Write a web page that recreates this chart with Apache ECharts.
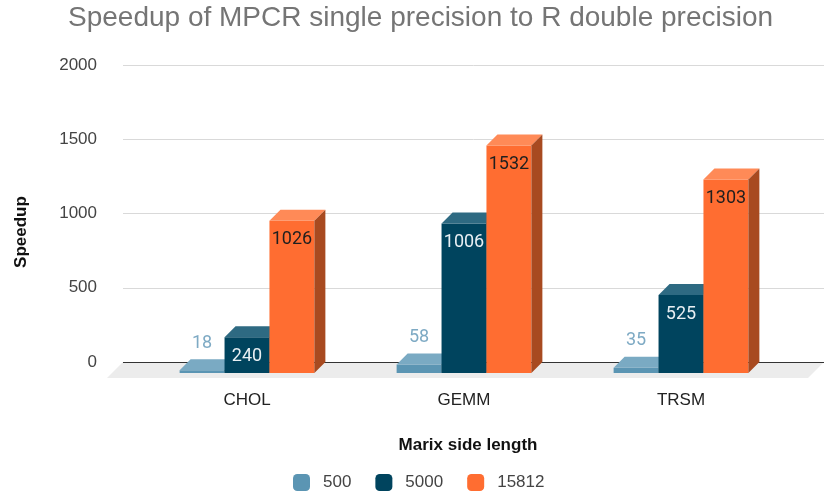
<!DOCTYPE html>
<html>
<head>
<meta charset="utf-8">
<script src="https://cdn.jsdelivr.net/npm/echarts@6/dist/echarts.min.js"></script>
<style>
  html, body { margin: 0; padding: 0; background: #fff; }
  #chart { width: 824px; height: 495px; }
</style>
</head>
<body>
<div id="chart"></div>
<script>
// data
const categories = ['CHOL', 'GEMM', 'TRSM']
const seriesNames = ['500', '5000', '15812']
const values500 = [18, 58, 35]
const values5000 = [240, 1006, 525]
const values15812 = [1026, 1532, 1303]
const yTicks = [0, 500, 1000, 1500, 2000]

// colours per series: front, top, side, label
const faces = [
  { front: '#5b95b3', top: '#7aaac3', side: '#3f6d84', label: '#7eaac4' },
  { front: '#00445e', top: '#2e6a82', side: '#002e40', label: '#e8eff3' },
  { front: '#ff6d31', top: '#ff8a57', side: '#a84a20', label: '#1f1f1f' },
]
const D = 11 // 3d depth offset, px

const chart = echarts.init(document.getElementById('chart'))

const barRender = (s) => (params, api) => {
	const cat = api.value(0)
	const v = api.value(1)
	const band = api.size([1, 0])[0]
	const bw = band * 0.207
	const base = api.coord([cat, 0])
	const top = api.coord([cat, v])
	const x0 = base[0] + (s - 1) * bw - bw / 2
	const x1 = x0 + bw
	const yb = base[1] + D
	const yt = top[1] + D
	const f = faces[s]
	const lblY = s === 0 ? yt - 27 : yt + 19
	return {
		type: 'group',
		children: [
			{ type: 'rect', shape: { x: x0, y: yt, width: bw, height: yb - yt }, style: { fill: f.front } },
			{ type: 'polygon', shape: { points: [[x0, yt], [x0 + D, yt - D], [x1 + D, yt - D], [x1, yt]] }, style: { fill: f.top } },
			{ type: 'polygon', shape: { points: [[x1, yt], [x1 + D, yt - D], [x1 + D, yb - D], [x1, yb]] }, style: { fill: f.side } },
			{
				type: 'text',
				x: (x0 + x1) / 2,
				y: lblY,
				style: { text: String(v), fill: f.label, font: '18px Roboto', align: 'center', verticalAlign: 'middle' },
			},
		],
	}
}

const floorRender = (params) => {
	const c = params.coordSys
	const yb = c.y + c.height
	return {
		type: 'group',
		children: [
			{ type: 'polygon', shape: { points: [[c.x, yb], [c.x + c.width, yb], [c.x + c.width - 16, yb + 16], [c.x - 16, yb + 16]] }, style: { fill: '#ececec' } },
			{ type: 'line', shape: { x1: c.x, y1: yb + 0.5, x2: c.x + c.width, y2: yb + 0.5 }, style: { stroke: '#333', lineWidth: 1 } },
		],
	}
}

const option = {
	backgroundColor: '#fff',
	animation: false,
	title: {
		text: 'Speedup of MPCR single precision to R double precision',
		left: 68,
		top: 4,
		padding: 0,
		textStyle: { fontFamily: 'Liberation Sans', fontWeight: 'normal', fontSize: 28, color: '#757575' },
	},
	legend: {
		left: 293,
		top: 474,
		padding: 0,
		itemWidth: 17,
		itemHeight: 17,
		itemGap: 24,
		icon: 'roundRect',
		data: seriesNames,
		textStyle: { fontFamily: 'Liberation Sans', fontSize: 17, color: '#444', padding: [0, 0, 0, 8] },
	},
	grid: [
		{ left: 123, right: 0, top: 65, height: 297 },
		{ left: 138.5, width: 651, top: 65, height: 297 },
	],
	xAxis: [
		{ gridIndex: 0, type: 'value', show: false, min: 0, max: 1 },
		{
			gridIndex: 1,
			type: 'category',
			data: categories,
			axisLine: { show: false },
			axisTick: { show: false },
			axisLabel: { margin: 30, fontFamily: 'Liberation Sans', fontSize: 17, color: '#222' },
		},
	],
	yAxis: [
		{
			gridIndex: 0,
			type: 'value',
			min: yTicks[0],
			max: yTicks[yTicks.length - 1],
			interval: 500,
			axisLine: { show: false },
			axisTick: { show: false },
			axisLabel: { margin: 26, fontFamily: 'Liberation Sans', fontSize: 17, color: '#444', formatter: (v) => String(v) },
			splitLine: { lineStyle: { color: '#d9d9d9', width: 1 } },
		},
		{ gridIndex: 1, type: 'value', show: false, min: 0, max: 2000 },
	],
	graphic: [
		{
			type: 'text',
			x: 21,
			y: 232,
			rotation: Math.PI / 2,
			style: { text: 'Speedup', font: 'bold 17px "Liberation Sans"', fill: '#111', align: 'center', verticalAlign: 'middle' },
		},
		{
			type: 'text',
			x: 468,
			y: 445,
			style: { text: 'Marix side length', font: 'bold 17px "Liberation Sans"', fill: '#111', align: 'center', verticalAlign: 'middle' },
		},
	],
	series: [
		{ type: 'custom', name: 'floor', xAxisIndex: 0, yAxisIndex: 0, renderItem: floorRender, data: [[0, 0]], silent: true, z: 1 },
		...[values500, values5000, values15812].map((vals, s) => ({
			type: 'custom',
			name: seriesNames[s],
			xAxisIndex: 1,
			yAxisIndex: 1,
			z: 3,
			itemStyle: { color: faces[s].front },
			renderItem: barRender(s),
			data: vals.map((v, i) => [i, v]),
		})),
	],
}

chart.setOption(option)
</script>
</body>
</html>
